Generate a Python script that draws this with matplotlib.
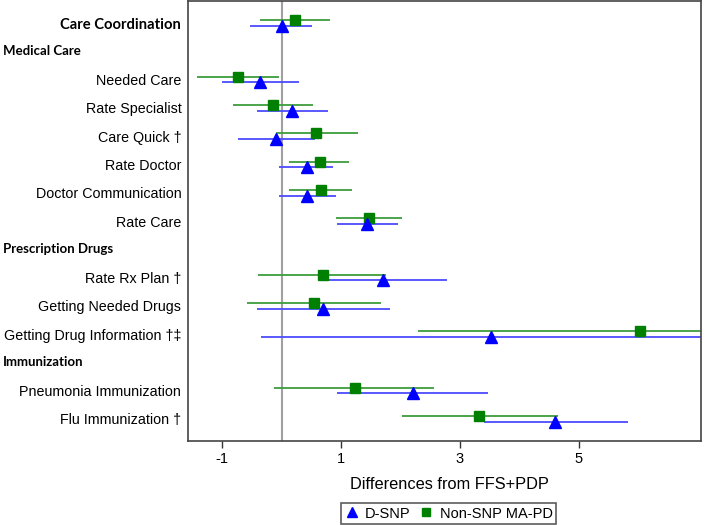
import matplotlib
import numpy as np

matplotlib.use("Agg")
import matplotlib.pyplot as plt
from matplotlib.lines import Line2D
from matplotlib.transforms import blended_transform_factory

# layout order of the rows: None marks a single row without a header
sections = [
    ("Care Coordination", None),
    ("Medical Care", ["Needed Care", "Rate Specialist", "Care Quick †", "Rate Doctor",
                      "Doctor Communication", "Rate Care"]),
    ("Prescription Drugs", ["Rate Rx Plan †", "Getting Needed Drugs",
                            "Getting Drug Information †‡"]),
    ("Immunization", ["Pneumonia Immunization", "Flu Immunization †"]),
]

measures = ["Care Coordination", "Needed Care", "Rate Specialist", "Care Quick †",
            "Rate Doctor", "Doctor Communication", "Rate Care", "Rate Rx Plan †",
            "Getting Needed Drugs", "Getting Drug Information †‡",
            "Pneumonia Immunization", "Flu Immunization †"]

dsnp_est = [0.00, -0.36, 0.18, -0.09, 0.42, 0.43, 1.44, 1.70, 0.70, 3.52, 2.21, 4.61]
dsnp_lo = [-0.53, -1.00, -0.42, -0.74, -0.05, -0.05, 0.94, 0.63, -0.42, -0.34, 0.94, 3.40]
dsnp_hi = [0.52, 0.29, 0.78, 0.56, 0.87, 0.91, 1.96, 2.78, 1.82, 7.36, 3.48, 5.83]

nonsnp_est = [0.23, -0.73, -0.14, 0.58, 0.64, 0.66, 1.47, 0.69, 0.54, 6.04, 1.23, 3.33]
nonsnp_lo = [-0.36, -1.42, -0.81, -0.10, 0.12, 0.13, 0.91, -0.39, -0.59, 2.29, -0.12, 2.02]
nonsnp_hi = [0.81, -0.05, 0.53, 1.29, 1.14, 1.19, 2.03, 1.75, 1.67, 9.77, 2.57, 4.65]

xticks = [-1, 1, 3, 5]

BLUE = "#0000ff"
GREEN = "#008000"
LBLUE = "#4c4cff"
LGREEN = "#3d9d3d"

# work out row positions
ypos = {}
headers = []
row = 0
for name, items in sections:
    if items is None:
        ypos[name] = row
    else:
        headers.append((name, row))
        for item in items:
            row += 1
            ypos[item] = row
    row += 1
y = np.array([ypos[m] for m in measures], dtype=float)

fig = plt.figure(figsize=(7.09, 5.25), dpi=100)
ax = fig.add_axes([0.2656, 0.1606, 0.7231, 0.8374])

ax.axvline(0, color="#a0a0a0", lw=1.5, zorder=1)

off = 0.1
ax.hlines(y - off, nonsnp_lo, nonsnp_hi, color=LGREEN, lw=1.3, zorder=2)
ax.hlines(y + off, dsnp_lo, dsnp_hi, color=LBLUE, lw=1.3, zorder=2)
ax.plot(nonsnp_est, y - off, ls="none", marker="s", ms=7.5, color=GREEN, zorder=3)
ax.plot(dsnp_est, y + off, ls="none", marker="^", ms=8, color=BLUE, zorder=3)

ax.set_xlim(-1.57, 7.06)
ax.set_ylim(14.77, -0.78)
ax.set_xticks(xticks, [str(t) for t in xticks])
ax.tick_params(axis="x", direction="out", length=5, width=1, color="#333333",
               labelsize=10.5, pad=3)
ax.set_yticks(y, measures)
ax.tick_params(axis="y", length=0, pad=5, labelsize=10.3)
for lab in ax.get_xticklabels() + ax.get_yticklabels():
    lab.set_fontfamily("Liberation Sans")
first = ax.get_yticklabels()[0]
first.set_fontfamily("Lato")
first.set_fontweight("bold")
first.set_fontsize(10.6)

for s in ax.spines.values():
    s.set_color("#444444")
    s.set_linewidth(1.2)

tr = blended_transform_factory(fig.transFigure, ax.transData)
for name, r in headers:
    ax.text(0.004, r, name, transform=tr, ha="left", va="center",
            fontfamily="Lato", fontweight="bold", fontsize=9.5)

ax.set_xlabel("Differences from FFS+PDP", fontfamily="Liberation Sans",
              fontsize=11.8)
ax.xaxis.set_label_coords(0.51, -0.082)

handles = [
    Line2D([], [], ls="none", marker="^", ms=7, color=BLUE, label="D-SNP"),
    Line2D([], [], ls="none", marker="s", ms=6, color=GREEN, label="Non-SNP MA-PD"),
]
leg = fig.legend(handles=handles, loc="center", bbox_to_anchor=(0.6326, 0.0219),
                 ncols=2, frameon=True, fancybox=False, handlelength=1,
                 handletextpad=0.4, columnspacing=0.6, borderpad=0.25,
                 prop={"family": "Liberation Sans", "size": 10.5})
leg.get_frame().set_edgecolor("#333333")
leg.get_frame().set_linewidth(1.2)

fig.savefig("out.png", dpi=100)
